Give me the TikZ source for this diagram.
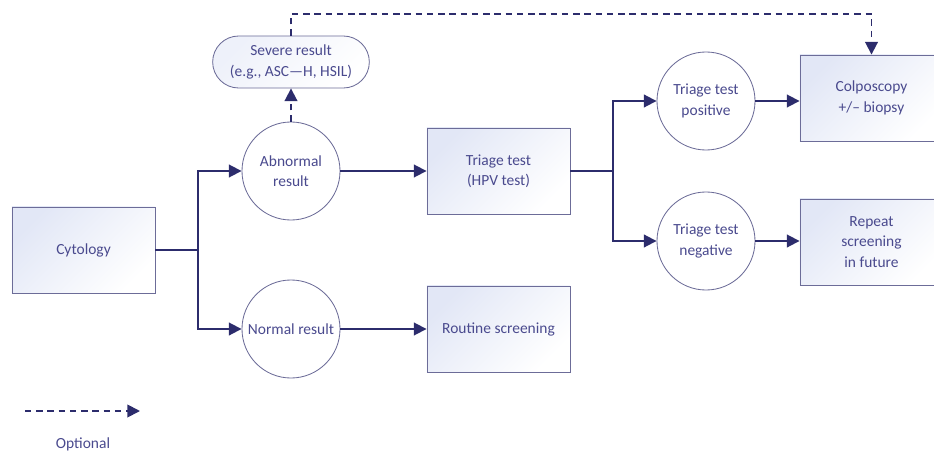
\documentclass[tikz,border=0pt]{standalone}
\usepackage{fontspec}
\setmainfont{Carlito}
\usetikzlibrary{arrows.meta, shapes.misc}

\definecolor{linenavy}{HTML}{2C2C6C}
\definecolor{textnavy}{HTML}{4A4A8E}
\definecolor{edgegray}{HTML}{6C6C98}
\definecolor{boxblue}{HTML}{E2E7F6}

\begin{document}
\begin{tikzpicture}[x=0.025cm, y=-0.025cm,
    >={Triangle[length=9pt, width=9pt]},
    every node/.style={font=\fontsize{11}{14.5}\selectfont, text=textnavy, align=center},
    stepbox/.style={draw=edgegray, line width=0.6pt, minimum width=3.575cm, minimum height=2.15cm,
        top color=boxblue, bottom color=white, shading angle=45},
    result/.style={circle, draw=edgegray, line width=0.6pt, fill=white, minimum size=2.45cm, inner sep=0pt},
    severe/.style={rounded rectangle, draw=edgegray, line width=0.6pt, minimum width=4.15cm, minimum height=1.3cm,
        top color=boxblue!60, bottom color=white, shading angle=45},
    flow/.style={draw=linenavy, line width=1.3pt},
    optional/.style={flow, dash pattern=on 4.5pt off 3.5pt}]

    \useasboundingbox (0,0) rectangle (934,453);

    % ── Boxes ────────────────────────────────────────────────────────────────
    \node[stepbox] (cyto)    at (83.5,250)  {Cytology};
    \node[stepbox] (triage)  at (498.5,171) {Triage test\\(HPV test)};
    \node[stepbox] (routine) at (498.5,329) {Routine screening};
    \node[stepbox] (colpo)   at (871.5,98)  {Colposcopy\\+/-- biopsy};
    \node[stepbox] (repeat)  at (871.5,242) {Repeat\\screening\\in future};

    % ── Results ──────────────────────────────────────────────────────────────
    \node[result] (abnormal) at (291,171) {Abnormal\\result};
    \node[result] (normal)   at (291,329) {Normal result};
    \node[result] (positive) at (706,101) {Triage test\\positive};
    \node[result] (negative) at (706,241) {Triage test\\negative};
    \node[severe] (severe)   at (291,62)  {Severe result\\(e.g., ASC---H, HSIL)};

    % ── Branch points ────────────────────────────────────────────────────────
    \coordinate (split1) at (198,250);
    \coordinate (split2) at (613,171);
    \coordinate (topline) at (0,14);

    % ── Connectors ───────────────────────────────────────────────────────────
    \draw[flow] (cyto.east) -- (split1);
    \draw[flow, ->] (split1) |- (abnormal.west);
    \draw[flow, ->] (split1) |- (normal.west);
    \draw[flow, ->] (abnormal.east) -- (triage.west);
    \draw[flow, ->] (normal.east) -- (routine.west);
    \draw[flow] (triage.east) -- (split2);
    \draw[flow, ->] (split2) |- (positive.west);
    \draw[flow, ->] (split2) |- (negative.west);
    \draw[flow, ->] (positive.east) -- (positive.east -| colpo.west);
    \draw[flow, ->] (negative.east) -- (negative.east -| repeat.west);

    % optional paths
    \draw[optional, ->] (abnormal.north) -- (severe.south);
    \draw[optional, ->] (severe.north) -- (severe.north |- topline) -| (colpo.north);

    % ── Legend ───────────────────────────────────────────────────────────────
    \coordinate (legstart) at (25,411);
    \coordinate (legend)   at (140,411);
    \draw[optional, ->] (legstart) -- (legend);
    \node (optlabel) at (83,444) {Optional};

\end{tikzpicture}
\end{document}
